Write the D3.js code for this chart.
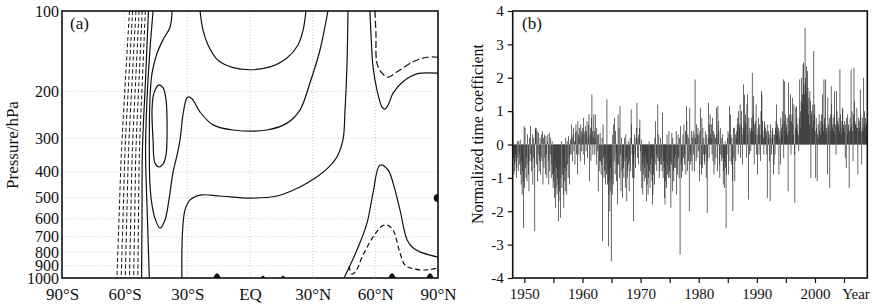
<!DOCTYPE html>
<html>
<head>
<meta charset="utf-8">
<script src="https://cdn.jsdelivr.net/npm/d3@7"></script>
<style>
  body { margin: 0; background: #fff; }
  svg text { font-family: "Liberation Serif", "Times New Roman", serif; fill: #111; }
</style>
</head>
<body>
<div id="chart"></div>
<script>
// ---------- panel (a) data: contour lines as [latitude, pressure hPa] ----------
const latTicks = [-90, -60, -30, 0, 30, 60, 90];
const latLabels = ["90°S", "60°S", "30°S", "EQ", "30°N", "60°N", "90°N"];
const presTicks = [100, 200, 300, 400, 500, 600, 700, 800, 900, 1000];

// dashed (negative) bundle near 55°S, all sampled on the same pressures
const bundleP = [100, 180, 330, 600, 1000];
const bundleLat = [
  [-57.7, -59.6, -61.5, -62.7, -63.7],
  [-56.2, -58.0, -59.8, -60.8, -61.7],
  [-54.6, -56.4, -58.1, -59.0, -59.7],
  [-53.1, -54.7, -56.3, -57.1, -57.7],
  [-51.6, -53.1, -54.6, -55.2, -55.7],
  [-50.1, -51.5, -52.9, -53.4, -53.7]
];
const westA = [[-48.6, 100], [-50.0, 180], [-51.5, 330], [-51.7, 600], [-51.9, 1000]];
const westB = [[-46.4, 100], [-47.9, 140], [-49.3, 215], [-50.0, 330], [-49.1, 600], [-48.2, 1000]];
const bigRing = [[-37.3, 100], [-38.3, 115], [-41.6, 128], [-44.5, 144], [-46.9, 171], [-47.9, 215],
  [-48.2, 332], [-47.9, 448], [-46.9, 533], [-45.5, 597], [-43.1, 650], [-40.7, 606], [-38.8, 510],
  [-36.9, 404], [-34.9, 346], [-33.5, 304], [-32.1, 245], [-30.6, 215], [-29.7, 210], [-27.8, 213],
  [-23.9, 239], [-17.7, 267], [-8.1, 279], [8.1, 279], [17.7, 263], [23.9, 235], [28.7, 186],
  [33.5, 140], [37.3, 100]];
const oval = [[-43.6, 189], [-41.6, 194], [-40.2, 215], [-39.7, 279], [-40.2, 346], [-41.6, 374],
  [-43.6, 384], [-45.5, 371], [-46.4, 304], [-46.9, 235], [-46.0, 203]];
const upperU = [[-23.9, 100], [-22.5, 118], [-20.1, 134], [-15.3, 153], [-8.1, 163], [0, 166],
  [9.6, 162], [17.7, 150], [23.0, 134], [25.4, 118], [26.8, 100]];
const lowerU = [[-32.6, 1000], [-32.6, 786], [-32.1, 633], [-31.1, 556], [-28.7, 510], [-23.9, 489],
  [-14.4, 493], [0, 502], [12.9, 493], [23.9, 456], [32.1, 418], [37.3, 387], [41.6, 352],
  [44.5, 304], [45.5, 235], [46.4, 162], [46.9, 100]];
const arcticUpper = [[57.4, 100], [57.9, 121], [58.9, 162], [60.8, 198], [63.2, 229], [64.6, 233],
  [66.1, 225], [68.5, 203], [73.2, 184], [79.9, 172], [90, 171]];
const arcticUpperDash = [[59.8, 100], [60.3, 121], [60.8, 157], [63.2, 171], [66.1, 177],
  [70.4, 169], [78.0, 155], [84.7, 149], [90, 149]];
const arcticLower = [[45.0, 1000], [51.2, 786], [56.0, 623], [58.9, 480], [62.2, 378], [66.1, 394],
  [68.5, 441], [71.8, 556], [75.2, 720], [78.0, 770], [81.4, 798], [86.2, 821], [90, 835]];
const arcticLowerDash = [[47.4, 900], [48.8, 967], [50.7, 941], [54.1, 821], [58.9, 703],
  [63.2, 639], [65.6, 633], [68.5, 661], [71.8, 806], [74.2, 894], [78.0, 923], [84.7, 933], [90, 917]];
// small closed cells at the surface: [lat, top pressure, half width in degrees]
const surfaceCells = [[-15.8, 965, 1.5], [6.2, 984, 0.8], [15.8, 984, 0.8], [68.0, 965, 1.5], [86.2, 965, 1.5]];
const edgeCell = [[90, 486], [88.6, 492], [88.2, 502], [88.6, 512], [90, 518]];

// ---------- panel (b) data: monthly normalized time coefficient ----------
const firstYear = 1948;
const coef1948to1959 = [
  [1.0, -0.4, -0.9, -0.6, -0.8, -0.3, -0.5, -1.0, -0.7, 0.1, -0.4, -0.8],
  [0.1, -0.3, -0.6, 0.15, -0.9, -1.2, -0.5, -1.5, -0.8, -1.1, -2.5, 0.55],
  [-1.3, 0.5, -0.7, -1.0, -0.4, -1.1, 0.3, -0.6, -0.9, -1.4, 0.2, -0.5],
  [0.55, -0.3, -0.8, -0.5, 0.3, -1.2, -0.4, 0.2, -0.7, -2.6, 0.5, 0.45],
  [0.5, -0.6, 0.4, -1.1, -0.3, 0.35, -0.8, -0.5, 0.2, -0.9, -0.4, 0.3],
  [-0.5, 0.4, -1.2, 0.2, -0.7, 0.3, -0.4, -0.9, 0.25, -0.3, -1.0, 0.1],
  [0.3, -0.5, -1.2, 0.35, -0.8, -0.3, 0.2, -1.0, -0.6, 0.1, -0.9, -1.3],
  [-1.1, -0.8, -1.6, -0.5, -1.9, -1.3, -0.7, -1.5, -1.0, -1.2, -2.3, -1.7],
  [-1.4, -0.6, -2.2, -1.0, 0.1, -1.3, -0.9, -0.4, -1.5, -1.9, -0.7, -1.1],
  [-1.4, 0.2, -0.8, -1.5, 0.1, -0.6, -1.0, 0.25, -0.4, -1.2, -0.3, 0.15],
  [-0.3, 0.6, 0.2, -0.5, 0.3, 0.5, -0.2, 0.1, -0.6, 0.35, 0.6, -0.3],
  [0.4, -0.9, 0.7, 0.3, -0.3, 0.5, 0.2, -0.5, 0.6, 0.4, -0.2, 0.3]
];
const coef1960s = [
  [0.5, -0.3, 0.8, 0.4, -0.6, 0.3, 0.55, -0.2, 0.4, 0.7, -0.4, 0.2],
  [0.6, 0.9, -1.1, 0.3, 0.5, -0.5, 0.8, 1.5, 0.4, -0.3, 0.2, 0.9],
  [0.4, -0.3, 0.9, 0.2, -0.6, 0.5, -0.2, 0.3, -1.4, 0.3, -0.8, -0.5],
  [0.35, -0.5, -0.9, -0.6, 0.2, -2.9, 0.6, -0.4, -1.0, -0.8, -0.3, -1.2],
  [-0.6, -0.9, 1.35, -1.2, -0.8, -3.05, -1.5, -1.1, -2.0, -0.7, -1.4, -3.5],
  [-1.0, -1.5, 0.3, -1.2, 0.6, -0.5, 0.8, -0.9, 0.4, -0.3, -1.1, -0.6],
  [-1.8, 0.9, -0.6, 0.5, -1.0, 1.15, -0.3, -1.4, 0.2, -0.8, -1.6, -0.4],
  [-0.7, -1.0, 0.2, -0.5, -1.3, 0.3, -0.4, -1.7, -1.0, -0.8, 0.1, -0.6],
  [-1.4, -0.5, 0.2, -0.8, 1.05, 0.6, -0.3, -1.0, -0.6, -2.3, -1.0, 0.3],
  [-0.3, -0.7, 0.2, 0.5, 1.25, -0.4, 0.2, -0.6, 0.3, 0.5, 0.75, -0.2]
];
const coef1970s = [
  [-0.8, 0.15, -1.3, -0.6, -1.5, -0.9, -0.4, -1.1, -0.7, -0.3, -1.0, -0.5],
  [-1.7, -1.2, -0.6, -1.5, -1.0, 0.1, -0.8, -1.3, -0.6, -0.9, -0.4, -1.1],
  [-1.8, -1.5, -0.9, -0.5, -1.2, 0.2, 0.7, -0.6, -0.3, -0.8, -0.4, 1.2],
  [-0.5, 0.3, -1.0, -0.8, -0.6, 0.2, -0.4, -0.6, -0.8, 0.95, -1.0, -0.5],
  [-0.7, -1.6, -1.8, -1.1, -0.5, -1.3, 0.3, -0.9, -0.6, -1.0, 0.4, -0.8],
  [-1.0, -0.5, -1.9, -0.6, 0.35, -1.4, 0.2, -0.8, -1.1, -0.4, -0.7, -0.3],
  [-0.7, 0.4, -1.5, -0.5, -0.9, 0.3, -0.4, -1.0, 0.2, -3.3, 0.55, -0.6],
  [-1.0, -0.5, -0.8, 0.3, -0.4, 0.6, -0.6, -0.3, 0.4, -0.9, 1.15, 0.7],
  [-0.8, 0.3, -0.5, 0.2, -2.0, 1.1, -0.6, -0.3, -0.5, 0.4, -0.8, 0.2],
  [0.4, -0.3, 0.3, -0.8, 1.95, 0.2, -0.5, 0.6, -0.4, 0.3, 0.5, -0.2]
];
const coef1980s = [
  [0.3, -1.1, 0.4, 1.1, -0.6, -0.9, 0.8, -0.7, 0.5, -0.3, 0.2, -0.5],
  [-0.6, 0.4, -0.3, -1.0, 0.3, -2.05, -0.5, 0.2, 1.25, -0.4, 0.6, 0.9],
  [0.3, 0.2, 0.6, -0.3, 0.8, -0.5, 0.4, -0.9, 0.3, -0.6, 0.2, -0.4],
  [1.1, 0.3, -0.8, 1.15, 0.7, 0.4, -0.6, -1.0, 0.5, -0.3, 0.2, -0.5],
  [-0.4, 0.3, -1.2, -0.8, -0.5, -1.3, 0.1, -0.7, -2.5, -0.9, -0.3, 0.2],
  [0.4, -0.9, 0.3, 1.15, -0.5, 0.9, 0.3, -0.6, 0.2, -1.1, -2.0, 0.5],
  [-0.4, 0.5, -1.1, 0.3, -0.5, 0.2, 0.4, 0.6, 0.8, -0.3, 1.0, 0.6],
  [0.5, 1.2, -0.4, 0.6, 1.0, 0.3, -0.6, 0.5, 1.8, 0.4, 1.5, 0.7],
  [0.9, 0.6, -0.4, 1.2, 1.5, 0.3, -1.65, 0.8, -0.3, 0.5, 0.4, -0.2],
  [0.5, 0.8, 2.15, 0.4, 0.9, 1.45, -0.6, 0.6, 0.3, 0.7, 1.2, -0.3]
];
const coef1990s = [
  [0.3, -0.9, 0.5, 0.8, -0.3, 0.6, 0.3, -0.5, 1.0, 1.6, 1.5, 0.7],
  [0.4, 0.2, -0.3, 0.7, 0.6, 0.5, 0.3, 0.4, -0.3, -1.6, 0.6, 0.2],
  [0.4, 0.3, -0.5, -1.7, 0.6, 0.2, -0.3, 0.4, 0.5, 0.3, -0.9, -0.6],
  [0.3, -0.3, 0.5, 0.7, 1.2, 0.4, 0.6, 0.3, 0.5, -0.9, 0.2, 0.4],
  [-0.6, 0.8, 0.5, 0.3, 0.6, 1.0, 1.95, -0.4, 0.7, 1.9, 0.4, 0.9],
  [0.6, 0.5, 0.8, 0.3, -1.4, 1.85, 0.4, 0.9, 0.7, 1.5, -0.3, 0.7],
  [0.9, 1.4, 0.6, 0.3, 1.2, -0.3, -1.75, 0.5, 1.1, 1.15, 0.8, 0.4],
  [0.6, 0.3, -0.2, 0.8, 1.95, 0.5, 1.0, 1.3, 2.0, 1.2, 1.5, 2.4],
  [2.45, 1.8, 1.5, 3.5, 2.0, 1.6, 2.35, 1.2, 2.2, 1.7, 0.9, 1.4],
  [0.6, 1.6, 1.3, -1.0, 0.9, 1.0, 0.5, 1.2, 0.7, 2.8, 0.9, 1.2]
];
const coef2000s = [
  [0.4, -1.0, 0.8, 0.5, -1.1, 0.3, 0.6, 0.2, 0.9, 0.4, 0.7, 0.3],
  [0.5, 0.9, 0.7, 1.5, 0.6, 0.4, 1.95, 0.8, 0.6, 1.95, 0.3, 0.5],
  [0.4, -0.9, 1.4, 0.6, 0.5, 0.8, -1.3, 0.4, 0.9, 1.75, 1.2, 0.6],
  [0.5, 0.8, 0.4, 0.9, 1.6, 0.3, 0.6, -0.3, 1.6, 1.0, 0.7, 0.5],
  [0.6, 0.8, 0.4, 2.25, 0.9, 0.5, 0.3, 0.7, 1.1, 1.05, 0.6, 0.5],
  [0.4, 0.7, -0.4, 0.6, -0.7, 0.8, 0.3, 0.9, 0.5, 0.6, -1.3, 0.4],
  [0.8, 0.5, 2.25, 0.6, 1.0, 0.4, -0.5, 0.9, 2.3, 1.3, 0.7, 0.6],
  [0.6, 0.5, 1.1, 0.5, -0.9, 0.8, 0.4, 0.7, 0.5, 1.65, 0.9, 0.4],
  [-0.6, 0.8, 0.5, 0.4, 2.0, 0.6, 1.0, 0.5, 0.8, 0.3, 0.6, 0.7]
];
const yearTicks = [1950, 1955, 1960, 1965, 1970, 1975, 1980, 1985, 1990, 1995, 2000, 2005];
const yearLabels = [1950, 1960, 1970, 1980, 1990, 2000];
const coefTicks = [-4, -3, -2, -1, 0, 1, 2, 3, 4];

// ---------- svg ----------
const W = 886, H = 304;
const svg = d3.select("#chart").append("svg").attr("width", W).attr("height", H);

// ===== panel (a) =====
const pa = { left: 62, right: 438, top: 11, bottom: 278 };
const ax = d3.scaleLinear().domain([-90, 90]).range([pa.left, pa.right]);
const ay = d3.scaleLog().domain([100, 1000]).range([pa.top, pa.bottom]);

const gA = svg.append("g");

// dotted grid
gA.append("g").selectAll("line").data(latTicks.slice(1, -1)).join("line")
  .attr("x1", d => ax(d)).attr("x2", d => ax(d))
  .attr("y1", pa.top).attr("y2", pa.bottom)
  .attr("stroke", "#c4c4c4").attr("stroke-width", 0.8).attr("stroke-dasharray", "1,2");
gA.append("g").selectAll("line").data(presTicks.slice(1, -1)).join("line")
  .attr("x1", pa.left).attr("x2", pa.right)
  .attr("y1", d => ay(d)).attr("y2", d => ay(d))
  .attr("stroke", "#c4c4c4").attr("stroke-width", 0.8).attr("stroke-dasharray", "1,2");

gA.append("clipPath").attr("id", "clipA").append("rect")
  .attr("x", pa.left).attr("y", pa.top)
  .attr("width", pa.right - pa.left).attr("height", pa.bottom - pa.top);

const contourG = gA.append("g").attr("clip-path", "url(#clipA)");
const cLine = d3.line().x(d => ax(d[0])).y(d => ay(d[1])).curve(d3.curveCatmullRom.alpha(0.5));
const cLoop = d3.line().x(d => ax(d[0])).y(d => ay(d[1])).curve(d3.curveCatmullRomClosed.alpha(0.5));

function drawLine(pts, dash, gen, sw) {
  contourG.append("path")
    .attr("d", (gen || cLine)(pts))
    .attr("fill", "none")
    .attr("stroke", "#111")
    .attr("stroke-width", sw || 1.2)
    .attr("stroke-dasharray", dash || null);
}

bundleLat.forEach(lats => drawLine(lats.map((la, i) => [la, bundleP[i]]), "4,2.5", null, 1));
[westA, westB, bigRing, upperU, lowerU, arcticUpper, arcticLower].forEach(l => drawLine(l));
drawLine(oval, null, cLoop);
drawLine(arcticUpperDash, "7,3");
drawLine(arcticLowerDash, "5,3");

surfaceCells.forEach(([lat, top, hw]) => {
  contourG.append("path")
    .attr("d", cLine([[lat - hw, 1000], [lat, top], [lat + hw, 1000]]))
    .attr("fill", "#111").attr("stroke", "#111").attr("stroke-width", 1.2);
});
contourG.append("path").attr("d", cLine(edgeCell))
  .attr("fill", "#111").attr("stroke", "#111").attr("stroke-width", 1.2);

// frame
gA.append("rect")
  .attr("x", pa.left).attr("y", pa.top)
  .attr("width", pa.right - pa.left).attr("height", pa.bottom - pa.top)
  .attr("fill", "none").attr("stroke", "#111").attr("stroke-width", 1.6);

// axes
const axA = gA.append("g").attr("transform", `translate(0,${pa.bottom})`)
  .call(d3.axisBottom(ax).tickValues(latTicks).tickSize(0).tickPadding(10)
    .tickFormat((d, i) => latLabels[i]));
const ayA = gA.append("g").attr("transform", `translate(${pa.left},0)`)
  .call(d3.axisLeft(ay).tickValues(presTicks).tickSize(0).tickPadding(3)
    .tickFormat(d3.format("d")));
axA.select(".domain").remove();
ayA.select(".domain").remove();
axA.selectAll("text").style("font-size", "17px");
ayA.selectAll("text").style("font-size", "16px");

gA.append("text")
  .attr("transform", `translate(18,145) rotate(-90)`)
  .attr("text-anchor", "middle")
  .style("font-size", "17px")
  .text("Pressure/hPa");

gA.append("text").attr("x", 70).attr("y", 29).style("font-size", "17px").text("(a)");

// ===== panel (b) =====
const pb = { left: 512.7, right: 867.3, top: 11, bottom: 278 };
const bx = d3.scaleLinear().domain([firstYear, 2009]).range([pb.left, pb.right]);
const by = d3.scaleLinear().domain([-4, 4]).range([pb.bottom, pb.top]);

const allYears = [].concat(coef1948to1959, coef1960s, coef1970s, coef1980s, coef1990s, coef2000s);
const monthly = [];
allYears.forEach((row, yi) => row.forEach((v, m) => monthly.push({ t: firstYear + yi + m / 12, v })));

const gB = svg.append("g");
const barW = bx(firstYear + 1 / 12) - bx(firstYear);

// bars slightly wider than one month so neighbouring months merge into a dark band
gB.append("g").selectAll("rect").data(monthly).join("rect")
  .attr("x", d => bx(d.t) - barW * 0.25)
  .attr("width", barW * 1.5)
  .attr("y", d => by(Math.max(0, d.v)))
  .attr("height", d => Math.abs(by(d.v) - by(0)))
  .attr("fill", "#2e2e2e");

gB.append("clipPath").attr("id", "clipB").append("rect")
  .attr("x", pb.left).attr("y", pb.top)
  .attr("width", pb.right - pb.left).attr("height", pb.bottom - pb.top);
gB.select("g").attr("clip-path", "url(#clipB)");

gB.append("rect")
  .attr("x", pb.left).attr("y", pb.top)
  .attr("width", pb.right - pb.left).attr("height", pb.bottom - pb.top)
  .attr("fill", "none").attr("stroke", "#111").attr("stroke-width", 1.6);

const axB = gB.append("g").attr("transform", `translate(0,${pb.bottom})`)
  .call(d3.axisBottom(bx).tickValues(yearTicks).tickSize(5).tickPadding(5)
    .tickFormat(d => yearLabels.includes(d) ? d : ""));
const ayB = gB.append("g").attr("transform", `translate(${pb.left},0)`)
  .call(d3.axisLeft(by).tickValues(coefTicks).tickSize(5).tickPadding(4)
    .tickFormat(d => d < 0 ? "-" + Math.abs(d) : d));
[axB, ayB].forEach(g => {
  g.select(".domain").remove();
  g.selectAll("line").attr("stroke", "#111").attr("stroke-width", 1.2);
  g.selectAll("text").style("font-size", "15px");
});

gB.append("text").attr("x", 856).attr("y", pb.bottom + 21)
  .attr("text-anchor", "middle").style("font-size", "15px").text("Year");

gB.append("text")
  .attr("transform", `translate(483,134) rotate(-90)`)
  .attr("text-anchor", "middle")
  .style("font-size", "16px")
  .text("Normalized time coefficient");

gB.append("text").attr("x", 522).attr("y", 29).style("font-size", "17px").text("(b)");
</script>
</body>
</html>
